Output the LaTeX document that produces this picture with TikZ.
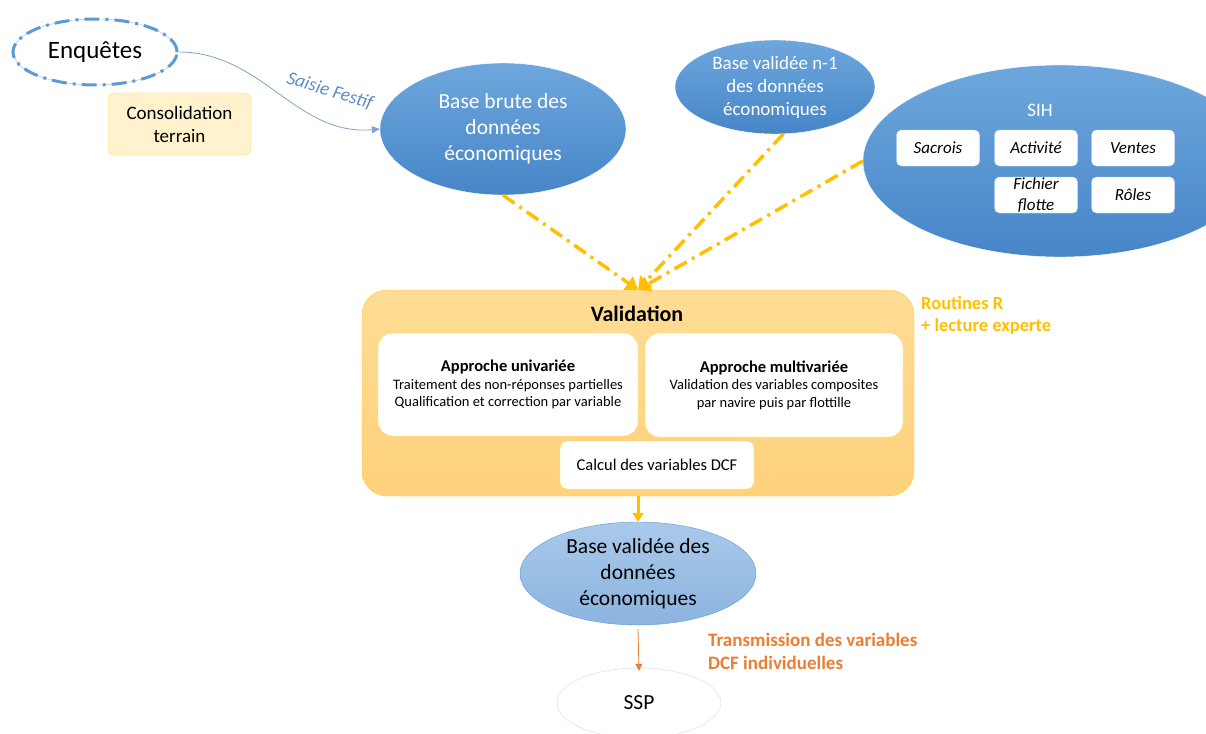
\documentclass[tikz,border=0pt]{standalone}
\usepackage{fontspec}
\setmainfont{Carlito}
\usetikzlibrary{arrows.meta, positioning, shapes.geometric}
\definecolor{bleu}{HTML}{5B9BD5}
\definecolor{bleuhaut}{HTML}{6EA7DD}
\definecolor{bleubas}{HTML}{4685C7}
\definecolor{bleuclair}{HTML}{A9C9EA}
\definecolor{bleuclairbas}{HTML}{8BB4DF}
\definecolor{saisie}{HTML}{5D8CC6}
\definecolor{jaune}{HTML}{FFC000}
\definecolor{creme}{HTML}{FFF2CC}
\definecolor{ocrehaut}{HTML}{FFDC95}
\definecolor{ocrebas}{HTML}{FFD27C}
\definecolor{corail}{HTML}{ED7D31}

\begin{document}
\begin{tikzpicture}[x=1pt, y=-1pt, >=Stealth,
  base/.style={ellipse, inner sep=0pt, align=center},
  bleue/.style={base, top color=bleuhaut, bottom color=bleubas, draw=white, text=white},
  sihbox/.style={rectangle, rounded corners=5pt, fill=white, draw=bleu!30, inner sep=0pt,
    minimum width=83pt, minimum height=36pt, align=center,
    font=\itshape\fontsize{17}{21}\selectfont},
  blanche/.style={rectangle, rounded corners=14pt, fill=white, draw=jaune!70, inner sep=0pt, align=center},
  flux/.style={jaune, line width=3.5pt, dash pattern=on 14pt off 6pt on 3pt off 6pt, -{Triangle[length=12pt,width=16pt]}}]
  \useasboundingbox (0,0) rectangle (1206,733);

  % sources
  \node[base, draw=bleu, line width=3pt, dash pattern=on 15pt off 6pt on 3pt off 6pt,
    preaction={draw=gray!50, line width=0.5pt, solid},
    minimum width=164pt, minimum height=66pt, font=\fontsize{25}{28}\selectfont] (enq) at (95,52) {Enquêtes};
  \node[rectangle, rounded corners=6pt, draw=jaune!60, fill=creme, minimum width=143pt, minimum height=62pt,
    align=center, font=\fontsize{19}{23}\selectfont] (cons) at (179.5,124) {Consolidation\\terrain};
  \node[bleue, minimum width=246pt, minimum height=132pt, font=\fontsize{21.5}{26}\selectfont] (brute) at (503,129)
    {Base brute des\\données\\économiques};
  \node[bleue, minimum width=200pt, minimum height=94pt, font=\fontsize{19}{23}\selectfont] (n1) at (775,87)
    {Base validée n-1\\des données\\économiques};

  % SIH
  \node[bleue, minimum width=394pt, minimum height=192pt] (sih) at (1060,161) {};
  \node[text=white, font=\fontsize{19}{22}\selectfont] (sihtitre) at (1040,110) {SIH};
  \foreach \nom/\x/\y/\txt in {sac/938/148/Sacrois, act/1036/148/Activité, ven/1133/148/Ventes,
      fic/1036/195/{Fichier\\flotte}, rol/1133/195/Rôles}{
    \node[sihbox] (\nom) at (\x,\y) {\txt};
  }

  \draw[saisie!80, line width=0.8pt, -{Triangle[length=8pt,width=7pt]}] (enq.east) to[out=0, in=185] (brute.west);
  \node[text=saisie, rotate=-17, inner sep=1pt, font=\itshape\fontsize{19}{22}\selectfont] (saisielab) at (330,91) {Saisie Festif};

  % validation
  \node[rectangle, rounded corners=25pt, top color=ocrehaut, bottom color=ocrebas, draw=jaune!80,
    minimum width=552pt, minimum height=206pt] (valid) at (638,393) {};
  \node[font=\bfseries\fontsize{22}{24}\selectfont] (validtitre) at (637,314) {Validation};
  \node[blanche, minimum width=260pt, minimum height=103pt, font=\fontsize{14.5}{17.5}\selectfont] (uni) at (508,384.5)
    {{\bfseries\fontsize{16.5}{20}\selectfont Approche univariée}\\Traitement des non-réponses partielles\\Qualification et correction par variable};
  \node[blanche, minimum width=258pt, minimum height=104pt, font=\fontsize{14.5}{17.5}\selectfont] (multi) at (774,385)
    {{\bfseries\fontsize{16.5}{20}\selectfont Approche multivariée}\\Validation des variables composites\\par navire puis par flottille};
  \node[blanche, rounded corners=7pt, minimum width=194pt, minimum height=48pt, font=\fontsize{16.5}{18}\selectfont] (dcf) at (657,465)
    {Calcul des variables DCF};
  \node[anchor=north west, text=jaune, align=left, inner sep=0pt, font=\bfseries\fontsize{18.5}{22}\selectfont] (routines) at (921,296)
    {Routines R\\+ lecture experte};

  \draw[flux] (brute.south) -- (valid.north);
  \draw[flux] (n1.-80) -- (valid.north);
  \draw[flux] (sih.west) -- (valid.north);

  % sorties
  \node[base, top color=bleuclair, bottom color=bleuclairbas, draw=bleu, minimum width=236pt, minimum height=103pt,
    font=\fontsize{21.5}{26}\selectfont] (bval) at (638,573.5) {Base validée des\\données\\économiques};
  \node[base, draw=gray!30, minimum width=164pt, minimum height=70pt, font=\fontsize{21.5}{24}\selectfont] (ssp) at (639,703) {SSP};
  \node[anchor=north west, text=corail, align=left, inner sep=0pt, font=\bfseries\fontsize{19}{23}\selectfont] (trans) at (708,633)
    {Transmission des variables\\DCF individuelles};

  \draw[jaune, line width=3pt, -{Triangle[length=9pt,width=11pt]}] (valid.south) -- (bval.north);
  \draw[corail, line width=0.8pt, -{Triangle[length=7pt,width=7pt]}] ([yshift=-4pt]bval.south) -- ([yshift=-3pt]ssp.north);
\end{tikzpicture}
\end{document}
